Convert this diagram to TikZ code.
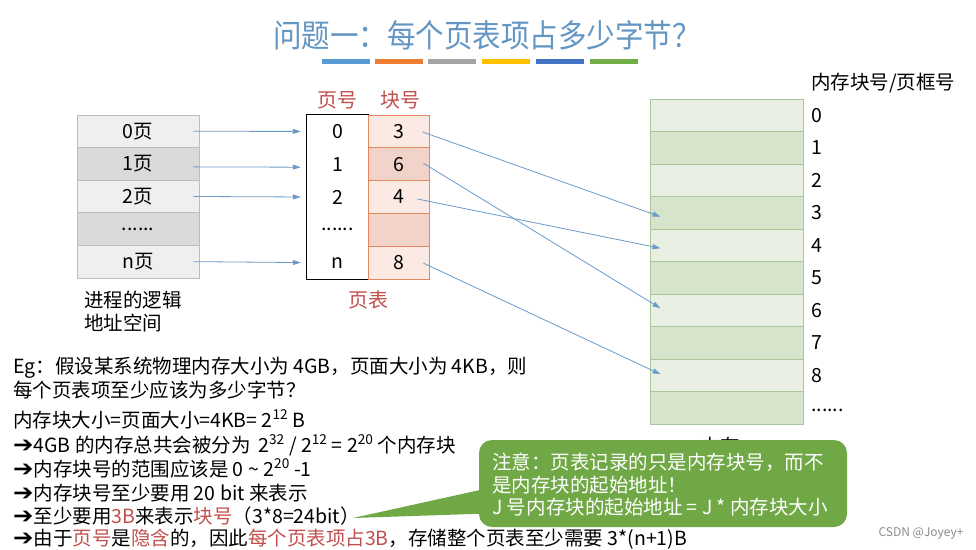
\documentclass[tikz,border=0pt]{standalone}
\usepackage{fontspec}
\usepackage{graphicx}
\setmainfont{Noto Sans CJK SC}
\newfontfamily\arrowfont{DejaVu Sans}
\usetikzlibrary{arrows.meta,calc}
\definecolor{titleblue}{HTML}{6496C3}
\definecolor{pagered}{HTML}{C0504D}
\definecolor{arrblue}{HTML}{6A9BC9}
\definecolor{lgA}{HTML}{EFEFEF}
\definecolor{lgB}{HTML}{DADADA}
\definecolor{lgBorder}{HTML}{BDBDBD}
\definecolor{pkA}{HTML}{FBE9E4}
\definecolor{pkB}{HTML}{F2D3CA}
\definecolor{pkBorder}{HTML}{E4875F}
\definecolor{gnA}{HTML}{E9F0E3}
\definecolor{gnB}{HTML}{D6E4CC}
\definecolor{gnBorder}{HTML}{A9C79A}
\definecolor{callgreen}{HTML}{70A846}
\definecolor{barA}{HTML}{5B9BD5}
\definecolor{barB}{HTML}{ED7D31}
\definecolor{barC}{HTML}{A5A5A5}
\definecolor{barD}{HTML}{FFC000}
\definecolor{barE}{HTML}{4472C4}
\definecolor{barF}{HTML}{70AD47}
\newcommand\redtxt[1]{\textcolor{pagered}{#1}}
\newcommand\myarr{{\arrowfont\bfseries\scalebox{1.25}[1.15]{➔}}}
\tikzset{
  body/.style={font=\fontsize{19.5}{23}\selectfont, inner sep=0pt},
  lcell/.style={body, draw=lgBorder, line width=0.8pt, minimum width=122pt, minimum height=32.6pt, anchor=center},
  pcell/.style={body, minimum width=61pt, minimum height=32.8pt, anchor=center},
  bcell/.style={body, draw=pkBorder, line width=0.8pt, minimum width=61pt, minimum height=32.8pt, anchor=center},
  mcell/.style={draw=gnBorder, line width=1pt, minimum width=153pt, minimum height=32.5pt, anchor=center, inner sep=0pt},
  mlabel/.style={body, anchor=west},
  txtline/.style={body, anchor=base west},
  hdr/.style={body, text=pagered, font=\fontsize{20}{24}\selectfont},
  arr/.style={draw=arrblue, line width=0.8pt, -{Triangle[length=8pt,width=5pt]}},
  bar/.style={minimum width=48pt, minimum height=5.5pt, inner sep=0pt},
  calltxt/.style={body, text=white, anchor=base west},
}
\begin{document}
\begin{tikzpicture}[x=1pt,y=-1pt]
\useasboundingbox (0,0) rectangle (976,549);
\fill[white] (0,0) rectangle (976,549);

% title
\node[text=titleblue, font=\fontsize{28.5}{32}\selectfont, inner sep=0pt] (title) at (487,35) {\scalebox{1}[1.12]{问题一：每个页表项占多少字节？}};
\node[bar, fill=barA] (b1) at (346,61.5) {};
\node[bar, fill=barB] (b2) at (399,61.5) {};
\node[bar, fill=barC] (b3) at (452,61.5) {};
\node[bar, fill=barD] (b4) at (506,61.5) {};
\node[bar, fill=barE] (b5) at (560,61.5) {};
\node[bar, fill=barF] (b6) at (614,61.5) {};

% logical address space
\node[lcell, fill=lgA] (l0) at (138,131.3) {0页};
\node[lcell, fill=lgB] (l1) at (138,163.9) {1页};
\node[lcell, fill=lgA] (l2) at (138,196.5) {2页};
\node[lcell, fill=lgB] (l3) at (138,229.1) {......};
\node[lcell, fill=lgA] (l4) at (138,261.7) {n页};
\node[body, anchor=base west] (lab1) at (84,307) {进程的逻辑};
\node[body, anchor=base west] (lab2) at (84,330) {地址空间};

% page table
\node[hdr] (hp) at (337,100) {页号};
\node[hdr] (hb) at (400,100) {块号};
\node[pcell] (p0) at (337.5,131.4) {0};
\node[pcell] (p1) at (337.5,164.2) {1};
\node[pcell] (p2) at (337.5,197) {2};
\node[pcell] (p3) at (337.5,229.8) {......};
\node[pcell] (p4) at (337.5,262.6) {n};
\draw[black, line width=1.2pt] (p0.north west) rectangle (p4.south east);
\node[bcell, fill=pkA] (k0) at (398.5,131.4) {3};
\node[bcell, fill=pkB] (k1) at (398.5,164.2) {6};
\node[bcell, fill=pkA] (k2) at (398.5,197) {4};
\node[bcell, fill=pkB] (k3) at (398.5,229.8) {};
\node[bcell, fill=pkA] (k4) at (398.5,262.6) {8};
\node[hdr] (ht) at (368,300) {页表};

% memory
\node[mcell, fill=gnA] (m0) at (726.5,115.25) {};
\node[mcell, fill=gnB] (m1) at (726.5,147.75) {};
\node[mcell, fill=gnA] (m2) at (726.5,180.25) {};
\node[mcell, fill=gnB] (m3) at (726.5,212.75) {};
\node[mcell, fill=gnA] (m4) at (726.5,245.25) {};
\node[mcell, fill=gnB] (m5) at (726.5,277.75) {};
\node[mcell, fill=gnA] (m6) at (726.5,310.25) {};
\node[mcell, fill=gnB] (m7) at (726.5,342.75) {};
\node[mcell, fill=gnA] (m8) at (726.5,375.25) {};
\node[mcell, fill=gnB] (m9) at (726.5,407.75) {};
\node[mlabel] (n0) at (811,115.25) {0};
\node[mlabel] (n1) at (811,147.75) {1};
\node[mlabel] (n2) at (811,180.25) {2};
\node[mlabel] (n3) at (811,212.75) {3};
\node[mlabel] (n4) at (811,245.25) {4};
\node[mlabel] (n5) at (811,277.75) {5};
\node[mlabel] (n6) at (811,310.25) {6};
\node[mlabel] (n7) at (811,342.75) {7};
\node[mlabel] (n8) at (811,375.25) {8};
\node[mlabel] (n9) at (811,410) {......};
\node[mlabel] (mhdr) at (811,83) {内存块号/页框号};
\node[body] (mem) at (720,446) {内存};

% arrows logical -> page table
\draw[arr, shorten <=-6pt, shorten >=6pt] (l0.east) -- (p0.west);
\draw[arr, shorten <=-6pt, shorten >=6pt] ($(l1.east)+(0,3)$) -- ($(p1.west)+(0,3)$);
\draw[arr, shorten <=-6pt, shorten >=6pt] (l2.east) -- (p2.west);
\draw[arr, shorten <=-6pt, shorten >=6pt] (l4.east) -- (p4.west);

% arrows block number -> memory
\draw[arr] ($(k0.east)+(-7,0.5)$) -- ($(m3.west)+(11,4)$);
\draw[arr] ($(k1.east)+(-6,-1)$) -- ($(m6.west)+(11,-2)$);
\draw[arr] ($(k2.east)+(-12,2)$) -- ($(m4.west)+(11,3)$);
\draw[arr] ($(k4.east)+(-6,0.5)$) -- ($(m8.west)+(11,-1)$);

% bottom text
\node[txtline] (t1) at (13,373) {Eg：假设某系统物理内存大小为 4GB，页面大小为 4KB，则};
\node[txtline] (t2) at (13,397) {每个页表项至少应该为多少字节？};
\node[txtline] (t3) at (13,427) {内存块大小=页面大小=4KB= 2\textsuperscript{12} B};
\node[txtline] (t4) at (13,452) {\myarr 4GB 的内存总共会被分为 \,2\textsuperscript{32} / 2\textsuperscript{12} = 2\textsuperscript{20} 个内存块};
\node[txtline] (t5) at (13,476) {\myarr 内存块号的范围应该是 0 \textasciitilde{} 2\textsuperscript{20} -1};
\node[txtline] (t6) at (13,500) {\myarr 内存块号至少要用 20 bit 来表示};
\node[txtline] (t7) at (13,523) {\myarr 至少要用\redtxt{3B}来表示\redtxt{块号}（3*8=24bit）};
\node[txtline] (t8) at (13,545.5) {\myarr 由于\redtxt{页号}是\redtxt{隐含}的，因此\redtxt{每个页表项占3B}，存储整个页表至少需要 3*(n+1)B};

% callout
\node[fill=callgreen, rounded corners=13pt, minimum width=368pt, minimum height=87pt, inner sep=0pt] (callout) at (663,483.5) {};
\coordinate (tip) at (353,518);
\fill[callgreen] (tip) -- ($(callout.west)+(8,5)$) -- ($(callout.west)+(8,30)$) -- cycle;
\node[calltxt] (c1) at (492,469.4) {注意：页表记录的只是内存块号，而不};
\node[calltxt] (c2) at (492,492) {是内存块的起始地址！};
\node[calltxt] (c3) at (492,514) {J 号内存块的起始地址 = J * 内存块大小};

% watermark
\node[text=black!45, font=\fontsize{12}{14}\selectfont, inner sep=0pt] (wm) at (921,533) {CSDN @Joyey+};
\end{tikzpicture}
\end{document}
